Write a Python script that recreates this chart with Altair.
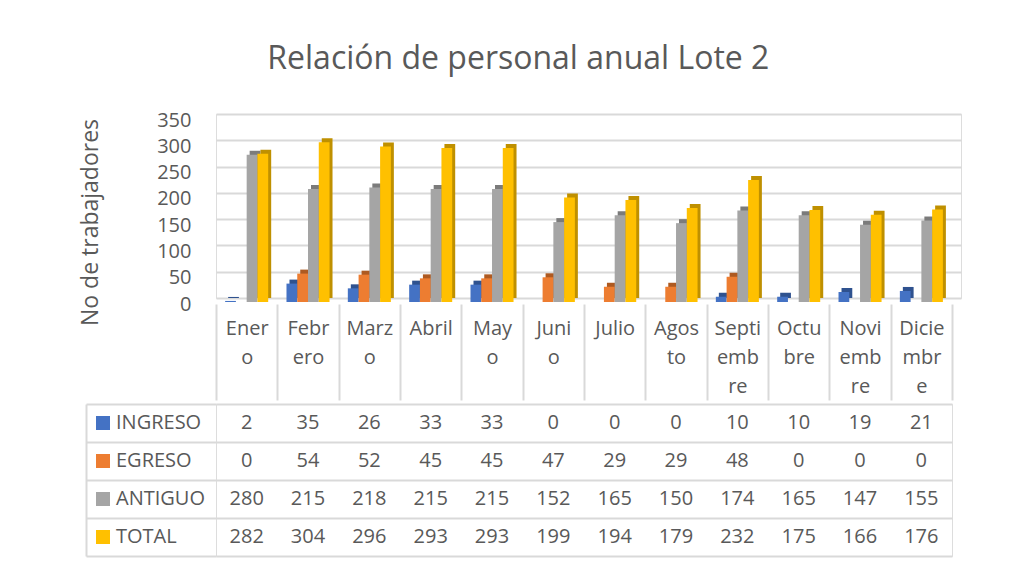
import altair as alt
import pandas as pd

# ---- data ----
meses = ["Enero", "Febrero", "Marzo", "Abril", "Mayo", "Junio", "Julio",
         "Agosto", "Septiembre", "Octubre", "Noviembre", "Diciembre"]
etiquetas = ["Ener|o", "Febr|ero", "Marz|o", "Abril", "May|o", "Juni|o", "Julio",
             "Agos|to", "Septi|emb|re", "Octu|bre", "Novi|emb|re", "Dicie|mbr|e"]
series = ["INGRESO", "EGRESO", "ANTIGUO", "TOTAL"]
ingreso = [2, 35, 26, 33, 33, 0, 0, 0, 10, 10, 19, 21]
egreso = [0, 54, 52, 45, 45, 47, 29, 29, 48, 0, 0, 0]
antiguo = [280, 215, 218, 215, 215, 152, 165, 150, 174, 165, 147, 155]
total = [282, 304, 296, 293, 293, 199, 194, 179, 232, 175, 166, 176]
y_ticks = [0, 50, 100, 150, 200, 250, 300, 350]

colores = ["#4472C4", "#ED7D31", "#A5A5A5", "#FFC000"]
colores_lado = ["#2F528F", "#AE5A21", "#7B7B7B", "#BF9000"]

rows = []
for i, et in enumerate(etiquetas):
    for s, vals in zip(series, [ingreso, egreso, antiguo, total]):
        rows.append({"mes": et, "nombre": meses[i], "serie": s, "valor": vals[i]})
df = pd.DataFrame(rows)

TXT = "#595959"
GRID = "#d9d9d9"
FONT = "Open Sans"

# ---- bar chart ----
x_bar = alt.X(
    "mes:N", sort=etiquetas,
    scale=alt.Scale(paddingInner=0, paddingOuter=0.073, align=0),
    axis=alt.Axis(title=None, domain=False, ticks=True, tickBand="extent",
                  tickSize=96, tickColor=GRID, tickWidth=2, offset=6,
                  labelPadding=-82, labelExpr="split(datum.label, '|')",
                  labelFontSize=20, labelColor=TXT, labelLineHeight=29,
                  labelBaseline="top", labelAngle=0, grid=False, labelFont=FONT),
)
y_bar = alt.Y(
    "valor:Q",
    scale=alt.Scale(domain=[0, 350]),
    axis=alt.Axis(values=y_ticks, title="No de trabajadores", titleFontSize=23,
                  titleColor=TXT, titleFontWeight="normal", titleFont=FONT,
                  titlePadding=54, titleY=108,
                  labelFontSize=20, labelColor=TXT, labelPadding=25, labelOffset=6,
                  labelFont=FONT, ticks=False, domain=False,
                  gridColor=GRID, gridWidth=2),
)
x_off_front = alt.XOffset("serie:N", sort=series,
                          scale=alt.Scale(domain=series, paddingInner=0, paddingOuter=0.85))
x_off_back = alt.XOffset("serie:N", sort=series,
                         scale=alt.Scale(domain=series, range=[3, 64.33],
                                         paddingInner=0, paddingOuter=0.85))

back = alt.Chart(df).mark_bar().encode(
    x=x_bar, y=y_bar, xOffset=x_off_back,
    color=alt.Color("serie:N", scale=alt.Scale(domain=series, range=colores_lado), legend=None),
)
front = alt.Chart(df).mark_bar(yOffset=4, y2Offset=4).encode(
    x=x_bar, y=y_bar, xOffset=x_off_front,
    color=alt.Color("serie:N", scale=alt.Scale(domain=series, range=colores), legend=None),
)
bars = alt.layer(back, front).resolve_scale(color="independent", xOffset="independent").properties(
    width=745, height=184)

# ---- data table ----
x_tab = alt.X("mes:N", sort=etiquetas, scale=alt.Scale(paddingInner=0, paddingOuter=0),
              axis=alt.Axis(title=None, labels=False, ticks=False, domain=False, grid=True,
                            tickBand="extent", gridColor=GRID, gridWidth=2))
y_tab = alt.Y("serie:N", sort=series, scale=alt.Scale(domain=series, paddingInner=0, paddingOuter=0),
              axis=alt.Axis(title=None, labels=False, ticks=True, tickSize=130, tickBand="extent",
                            tickColor=GRID, tickWidth=2, domain=False, grid=True,
                            gridColor=GRID, gridWidth=2))

texto = alt.Chart(df).mark_text(fontSize=20, color=TXT, font=FONT).encode(
    x=x_tab, y=y_tab, text="valor:Q"
)
leyenda = alt.Chart(df).mark_square(size=196, opacity=1).encode(
    x=alt.X("mes:N", sort=etiquetas, axis=None),
    y=alt.Y("serie:N", sort=series,
            axis=alt.Axis(orient="left", offset=130, domain=True, domainColor=GRID,
                          domainWidth=2, labels=False, ticks=False, grid=False, title=None)),
    color=alt.Color("serie:N", scale=alt.Scale(domain=series, range=colores),
                    legend=alt.Legend(orient="none", legendX=-123, legendY=9, title=None,
                                      symbolType="square", symbolSize=196, symbolStrokeWidth=0,
                                      labelFontSize=20, labelColor=TXT, labelFont=FONT,
                                      rowPadding=18, labelOffset=3, padding=0)),
).transform_filter("datum.valor < 0")

tabla = alt.layer(texto, leyenda).resolve_axis(y="independent").properties(width=736, height=152)

chart = alt.vconcat(bars, tabla, spacing=0).resolve_scale(color="independent").properties(
    title=alt.TitleParams("Relación de personal anual Lote 2", fontSize=32, font=FONT,
                          fontWeight="normal", color=TXT, anchor="middle", offset=34, dx=-2),
    padding={"left": 71, "top": 34, "right": 10, "bottom": 5},
).configure_view(stroke=None).configure(background="white")

chart.save("out.html", embed_options={"renderer": "svg", "actions": False})
